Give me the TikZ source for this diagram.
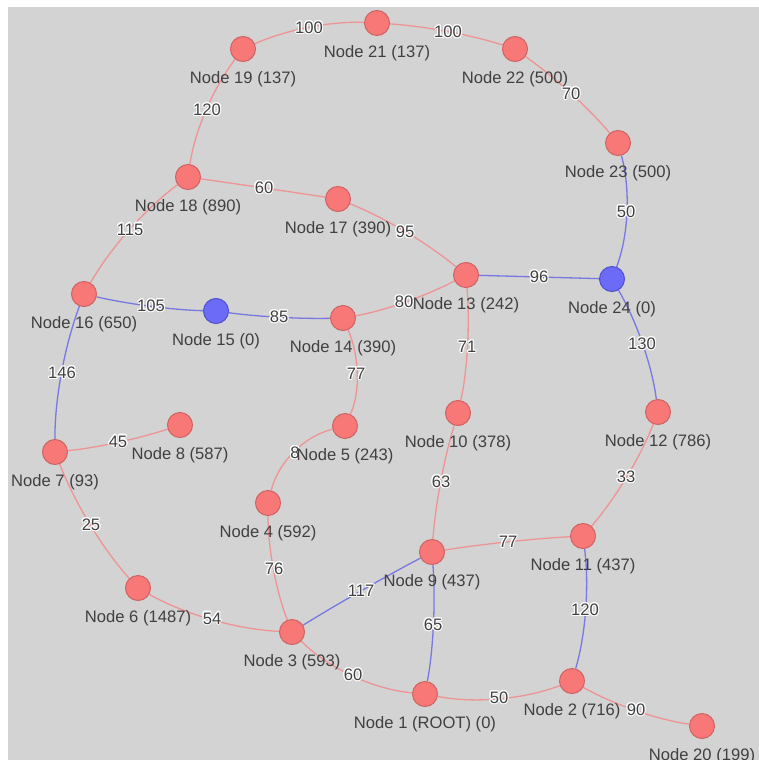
\documentclass[tikz,border=0pt]{standalone}
\usepackage{fontspec}
\setmainfont{Liberation Sans}
\usepackage{contour}
\usetikzlibrary{calc,backgrounds}
\definecolor{Canvas}{HTML}{D3D3D3}
\definecolor{NodeRed}{HTML}{F87878}
\definecolor{RimRed}{HTML}{D06262}
\definecolor{NodeBlue}{HTML}{6B6BF8}
\definecolor{RimBlue}{HTML}{5050CC}
\definecolor{LinkRed}{HTML}{EE9494}
\definecolor{LinkBlue}{HTML}{7878E2}
\definecolor{Ink}{HTML}{404040}
\contourlength{1.1pt}
\contournumber{10}

\begin{document}
\begin{tikzpicture}[x=1pt,y=-1pt,every node/.style={font=\fontsize{16.6}{18}\selectfont},
  vert/.style={circle,draw=RimRed,fill=NodeRed,line width=1pt,minimum size=25pt,inner sep=0pt,label distance=16.5pt},
  src/.style={vert,draw=RimBlue,fill=NodeBlue},
  tag/.style={inner sep=0pt,text=Ink,yshift=-9pt},
  wlabel/.style={inner sep=0pt,text=Ink},
  redge/.style={draw=LinkRed,line width=1.3pt},
  bedge/.style={draw=LinkBlue,line width=1.3pt}]
  \useasboundingbox (0,0) rectangle (759,760);

  % vertices
  \node[vert,label={[tag]below:Node 21 (137)}] (n21) at (377,23) {};
  \node[vert,label={[tag]below:Node 19 (137)}] (n19) at (243,49) {};
  \node[vert,label={[tag]below:Node 22 (500)}] (n22) at (515,49) {};
  \node[vert,label={[tag]below:Node 23 (500)}] (n23) at (618,143) {};
  \node[vert,label={[tag]below:Node 18 (890)}] (n18) at (188,177) {};
  \node[vert,label={[tag]below:Node 17 (390)}] (n17) at (338,199) {};
  \node[vert,label={[tag]below:Node 13 (242)}] (n13) at (466,275) {};
  \node[src,label={[tag]below:Node 24 (0)}] (n24) at (612,279) {};
  \node[vert,label={[tag]below:Node 16 (650)}] (n16) at (84,294) {};
  \node[src,label={[tag]below:Node 15 (0)}] (n15) at (216,311) {};
  \node[vert,label={[tag]below:Node 14 (390)}] (n14) at (343,318) {};
  \node[vert,label={[tag]below:Node 10 (378)}] (n10) at (458,413) {};
  \node[vert,label={[tag]below:Node 12 (786)}] (n12) at (658,412) {};
  \node[vert,label={[tag]below:Node 8 (587)}] (n8) at (180,425) {};
  \node[vert,label={[tag]below:Node 5 (243)}] (n5) at (345,426) {};
  \node[vert,label={[tag]below:Node 7 (93)}] (n7) at (55,452) {};
  \node[vert,label={[tag]below:Node 4 (592)}] (n4) at (268,503) {};
  \node[vert,label={[tag]below:Node 11 (437)}] (n11) at (583,536) {};
  \node[vert,label={[tag]below:Node 9 (437)}] (n9) at (432,552) {};
  \node[vert,label={[tag]below:Node 6 (1487)}] (n6) at (138,588) {};
  \node[vert,label={[tag]below:Node 3 (593)}] (n3) at (292,632) {};
  \node[vert,label={[tag]below:Node 1 (ROOT) (0)}] (n1) at (425,694) {};
  \node[vert,label={[tag]below:Node 2 (716)}] (n2) at (572,681) {};
  \node[vert,label={[tag]below:Node 20 (199)}] (n20) at (702,726) {};

  % links, bent through their weight labels
  \begin{scope}[on background layer]
    \fill[Canvas] (8,7) rectangle (759,760);
    \foreach \p/\q/\mx/\my/\w/\s in {
        n19/n21/309/28/100/redge, n21/n22/448/32/100/redge,
        n19/n18/207/110/120/redge, n22/n23/571/94/70/redge,
        n23/n24/626/212/50/bedge, n18/n17/264/188/60/redge,
        n18/n16/130/230/115/redge, n17/n13/405/232/95/redge,
        n13/n24/539/277/96/bedge, n16/n15/151/306/105/bedge,
        n15/n14/279/317/85/bedge, n14/n13/404/302/80/redge,
        n24/n12/642/344/130/bedge, n13/n10/467/347/71/redge,
        n14/n5/356/374/77/redge, n16/n7/62/373/146/bedge,
        n7/n8/118/442/45/redge, n5/n4/295/453/8/redge,
        n10/n9/441/482/63/redge, n12/n11/626/477/33/redge,
        n9/n11/508/542/77/redge, n4/n3/274/569/76/redge,
        n9/n3/361/591/117/bedge, n7/n6/91/525/25/redge,
        n6/n3/212/619/54/redge, n9/n1/433/625/65/bedge,
        n11/n2/585/610/120/bedge, n3/n1/353/675/60/redge,
        n1/n2/499/698/50/redge, n2/n20/636/710/90/redge}
    {
      \coordinate (m) at (\mx,\my);
      \coordinate (k) at ($2*(m)-0.5*(\p)-0.5*(\q)$);
      \draw[\s] (\p) .. controls ($(\p)!2/3!(k)$) and ($(\q)!2/3!(k)$) .. (\q);
      \node[wlabel] at (m) {\contour{white}{\w}};
    }
  \end{scope}
\end{tikzpicture}
\end{document}
